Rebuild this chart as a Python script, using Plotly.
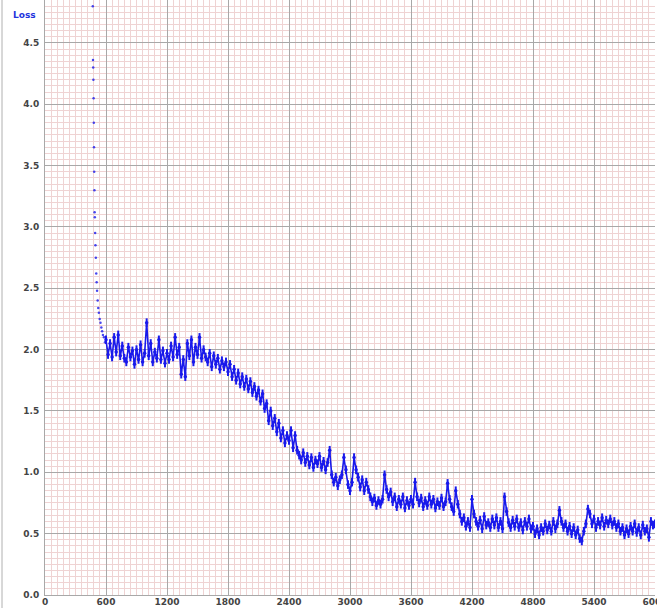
import numpy as np
import plotly.graph_objects as go

# Early steep descent (iteration, loss)
early_iters = [470, 472, 474, 476, 478, 480, 482, 484, 486, 488, 490, 493, 496, 500, 504,
               508, 512, 518, 524, 530, 538, 546, 554, 562, 570, 580, 590]
early_loss = [4.80, 4.36, 4.30, 4.20, 4.05, 3.85, 3.65, 3.45, 3.30, 3.12, 3.08, 2.95, 2.85,
              2.75, 2.62, 2.55, 2.48, 2.40, 2.34, 2.30, 2.25, 2.22, 2.18, 2.15, 2.12, 2.10, 2.06]

# Main loss readings, every 20 iterations from 600 to 6000
main_start, main_step = 600, 20
main_loss = [
    2.08, 1.96, 2.05, 1.94, 2.10, 1.98, 2.12, 1.95, 2.03, 1.93,
    1.90, 2.02, 1.94, 1.99, 1.88, 2.00, 1.92, 2.04, 1.90, 1.97,
    2.22, 1.95, 2.05, 1.90, 1.98, 1.93, 2.08, 1.92, 1.99, 1.89,
    1.97, 1.92, 2.03, 1.94, 2.10, 1.96, 2.02, 1.80, 1.92, 1.78,
    2.05, 1.95, 2.08, 1.90, 2.02, 1.96, 2.10, 1.93, 2.00, 1.94,
    1.90, 1.97, 1.86, 1.95, 1.88, 1.93, 1.84, 1.91, 1.86, 1.90,
    1.82, 1.88, 1.78, 1.84, 1.75, 1.81, 1.72, 1.78, 1.70, 1.76,
    1.68, 1.74, 1.65, 1.70, 1.62, 1.67, 1.58, 1.64, 1.52, 1.56,
    1.42, 1.50, 1.38, 1.44, 1.33, 1.40, 1.28, 1.34, 1.24, 1.30,
    1.26, 1.34, 1.20, 1.30, 1.18, 1.14, 1.10, 1.16, 1.08, 1.13,
    1.06, 1.12, 1.04, 1.10, 1.07, 1.13, 1.04, 1.09, 1.02, 1.08,
    1.18, 0.98, 0.92, 0.96, 0.89, 0.94, 0.98, 1.12, 1.02, 0.90,
    0.85, 0.92, 1.12, 1.02, 0.96, 0.88, 0.94, 0.85, 0.92, 0.86,
    0.80, 0.76, 0.79, 0.73, 0.77, 0.74, 0.78, 0.98, 0.86, 0.80,
    0.84, 0.76, 0.80, 0.72, 0.78, 0.74, 0.80, 0.71, 0.77, 0.73,
    0.78, 0.74, 0.92, 0.80, 0.75, 0.79, 0.72, 0.77, 0.73, 0.80,
    0.74, 0.78, 0.71, 0.76, 0.73, 0.79, 0.72, 0.76, 0.91, 0.78,
    0.72, 0.68, 0.85, 0.74, 0.66, 0.60, 0.63, 0.56, 0.60, 0.55,
    0.78, 0.66, 0.60, 0.56, 0.61, 0.54, 0.64, 0.57, 0.59, 0.55,
    0.62, 0.57, 0.63, 0.55, 0.60, 0.54, 0.80, 0.68, 0.59, 0.55,
    0.61, 0.56, 0.62, 0.55, 0.59, 0.53, 0.60, 0.56, 0.62, 0.54,
    0.56, 0.50, 0.54, 0.49, 0.55, 0.52, 0.58, 0.53, 0.57, 0.52,
    0.60, 0.54, 0.58, 0.69, 0.60, 0.55, 0.58, 0.52, 0.56, 0.50,
    0.55, 0.49, 0.53, 0.46, 0.44, 0.52, 0.58, 0.70, 0.66, 0.58,
    0.62, 0.55, 0.60, 0.57, 0.63, 0.56, 0.61, 0.58, 0.62, 0.57,
    0.60, 0.55, 0.58, 0.52, 0.55, 0.49, 0.54, 0.50, 0.56, 0.52,
    0.58, 0.51, 0.55, 0.49, 0.57, 0.52, 0.54, 0.47, 0.60, 0.57,
    0.58,
]
main_iters = [main_start + i * main_step for i in range(len(main_loss))]

x_ticks = [0, 600, 1200, 1800, 2400, 3000, 3600, 4200, 4800, 5400, 6000]
y_ticks = [0.0, 0.5, 1.0, 1.5, 2.0, 2.5, 3.0, 3.5, 4.0, 4.5]

BLUE = "rgb(25,25,235)"
fig = go.Figure()
fig.add_trace(go.Scatter(x=early_iters, y=early_loss, mode="markers",
                         marker=dict(size=2.5, color=BLUE, opacity=0.8), showlegend=False))
fig.add_trace(go.Scatter(x=main_iters, y=main_loss, mode="lines+markers",
                         line=dict(color=BLUE, width=1.6),
                         marker=dict(size=3.5, color=BLUE),
                         error_y=dict(type="constant", value=0.035, color=BLUE,
                                      thickness=2, width=0),
                         showlegend=False))

tickfont = dict(family="DejaVu Sans", size=9, color="#444444", weight="bold")
fig.update_layout(
    width=657, height=608,
    margin=dict(l=45, r=2, t=0, b=13, autoexpand=False),
    plot_bgcolor="white", paper_bgcolor="white",
    xaxis=dict(range=[0, 6000], tickvals=x_ticks, ticktext=[str(v) for v in x_ticks],
               showgrid=True, gridcolor="#a8a8a8", gridwidth=1, zeroline=False,
               showline=True, linecolor="#a8a8a8", ticks="", tickfont=tickfont,
               ticklabelstandoff=-2, automargin=False, ticklabeloverflow="allow",
               minor=dict(dtick=60, showgrid=True, gridcolor="#efd3d3", gridwidth=1)),
    yaxis=dict(range=[0, 4.85], tickvals=y_ticks, ticktext=[f"{v:.1f}" for v in y_ticks],
               showgrid=True, gridcolor="#a8a8a8", gridwidth=1, zeroline=False,
               showline=True, linecolor="#a8a8a8", ticks="", tickfont=tickfont,
               ticklabelstandoff=3, automargin=False, ticklabeloverflow="allow",
               minor=dict(dtick=0.05, showgrid=True, gridcolor="#efd3d3", gridwidth=1)),
    annotations=[dict(text="<b>Loss</b>", x=-21 / 610, y=1 - 15 / 595, xref="paper", yref="paper",
                      xanchor="center", yanchor="middle", showarrow=False,
                      font=dict(family="DejaVu Sans", size=9, color="#2233dd"))],
    shapes=[dict(type="line", xref="paper", yref="paper", x0=-43 / 610, x1=-43 / 610,
                 y0=-13 / 595, y1=1, line=dict(color="#b0b0b0", width=1))],
)
fig.write_html("out.html", config={"displayModeBar": False},
               post_script="document.body.style.margin='0';document.body.style.overflow='hidden';")
